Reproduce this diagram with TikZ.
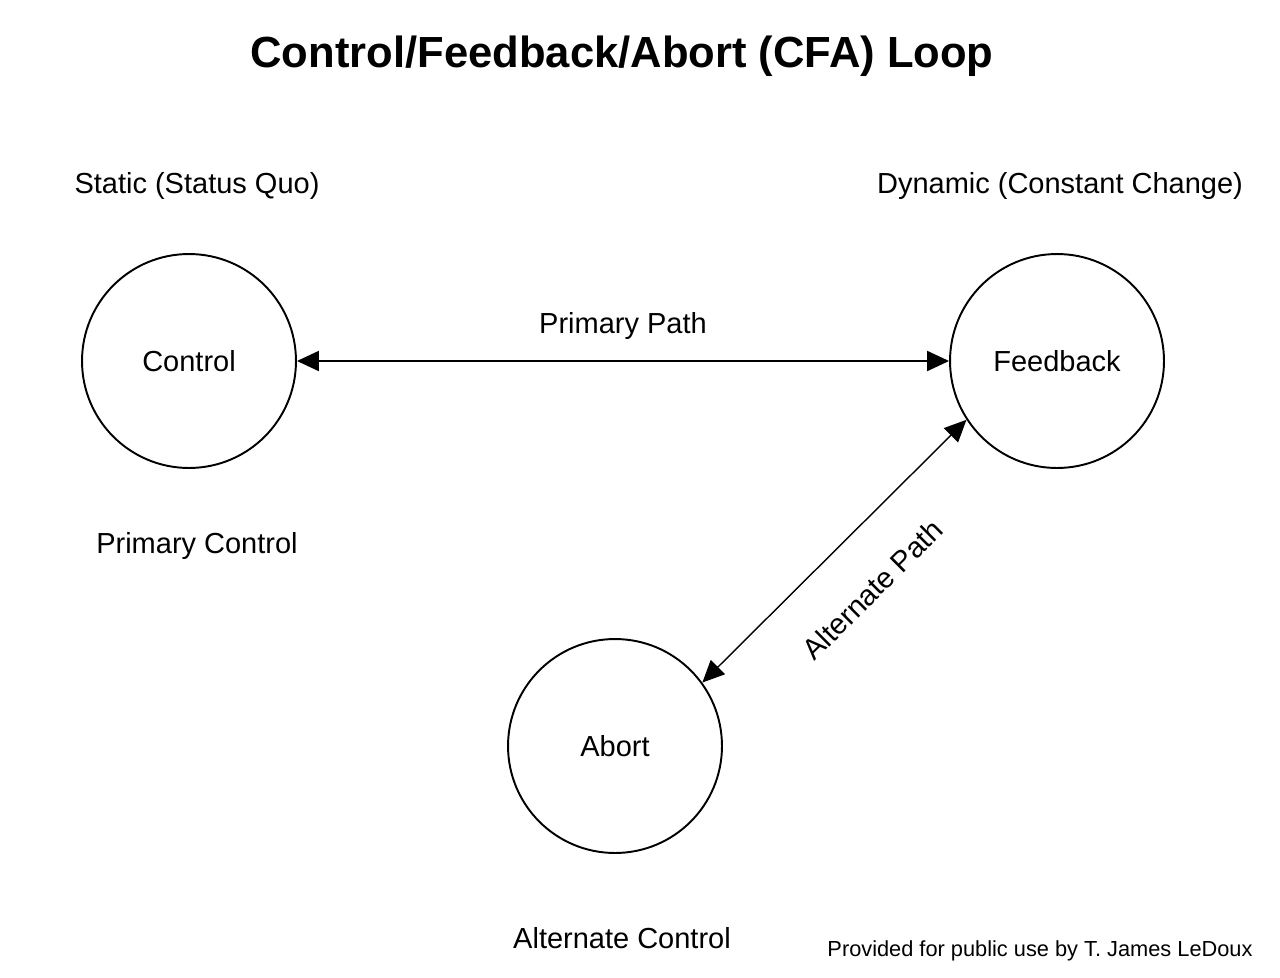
\documentclass[tikz,border=0pt]{standalone}
\usepackage{fontspec}
\setmainfont{Liberation Sans}
\usetikzlibrary{arrows.meta,positioning,shapes}
\tikzset{%
	state/.style  = {draw, circle, line width=1.1pt, minimum size=4.28cm, inner sep=0pt, font=\fontsize{16.5}{20}\selectfont},
	note/.style   = {font=\fontsize{16.5}{20}\selectfont},
	arrow/.style  = {line width=1.2pt, {Triangle[length=0.44cm,width=0.4cm]}-{Triangle[length=0.44cm,width=0.4cm]}},
}
\begin{document}
\begin{tikzpicture}[x=0.02cm,y=-0.02cm]
		\useasboundingbox (0,0) rectangle (1280,977);
		\node[font=\bfseries\fontsize{24.8}{30}\selectfont] (title) at (622,56) {Control/Feedback/Abort (CFA) Loop};
		
		\node[state] (control)  at (189,361)  {Control};
		\node[state] (feedback) at (1057,361) {Feedback};
		\node[state] (abort)    at (615,746)  {Abort};
		
		\node[note] (static)  at (197,186)  {Static (Status Quo)};
		\node[note] (dynamic) at (1060,186) {Dynamic (Constant Change)};
		\node[note] (primctl) at (197,546)  {Primary Control};
		\node[note] (altctl)  at (622,938)  {Alternate Control};
		\node[font=\fontsize{12.4}{15}\selectfont] (credit) at (1040,951) {Provided for public use by T. James LeDoux};
		
		\draw[arrow] (control) -- node[note, above=0.3cm] {Primary Path} (feedback);
		\draw[arrow, line width=0.8pt] (abort.36) -- node[note, sloped, below=0.74cm] {Alternate Path} (feedback.213);
		
		\end{tikzpicture}
\end{document}
